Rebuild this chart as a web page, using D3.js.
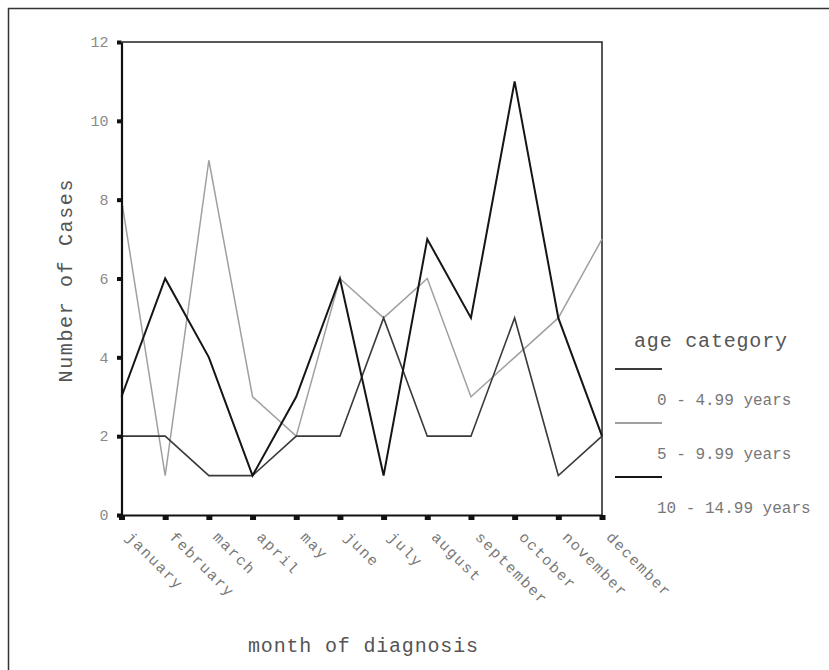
<!DOCTYPE html>
<html>
<head>
<meta charset="UTF-8">
<title>month of diagnosis</title>
<style>
  body { margin: 0; background: #fff; }
  text { font-family: "Liberation Mono", "DejaVu Sans Mono", monospace; }
</style>
</head>
<body>
<script src="https://cdn.jsdelivr.net/npm/d3@7"></script>
<script>
// data
var months = ["january", "february", "march", "april", "may", "june",
              "july", "august", "september", "october", "november", "december"];
var yTicks = [0, 2, 4, 6, 8, 10, 12];
var ageLabels = ["0 - 4.99 years", "5 - 9.99 years", "10 - 14.99 years"];
var age0 = [2, 2, 1, 1, 2, 2, 5, 2, 2, 5, 1, 2];
var age5 = [8, 1, 9, 3, 2, 6, 5, 6, 3, 4, 5, 7];
var age10 = [3, 6, 4, 1, 3, 6, 1, 7, 5, 11, 5, 2];

var width = 829, height = 670;
var svg = d3.select("body").append("svg")
    .attr("width", width)
    .attr("height", height);

// outer frame (only top and left show)
svg.append("path")
    .attr("d", "M8.5,670 V8.5 H829")
    .attr("fill", "none")
    .attr("stroke", "#333")
    .attr("stroke-width", 1.5);

var pLeft = 121.5, pRight = 602, pTop = 42, pBottom = 515;
var x = d3.scalePoint().domain(months).range([pLeft, pRight]);
var y = d3.scaleLinear().domain([0, 12]).range([pBottom, pTop]);

// top + right frame of the plot
svg.append("path")
    .attr("d", "M" + pLeft + "," + pTop + " H" + pRight + " V" + pBottom)
    .attr("fill", "none")
    .attr("stroke", "#222")
    .attr("stroke-width", 1.5);

// lines
var line = d3.line()
    .x(function(d, i) { return x(months[i]); })
    .y(function(d) { return y(d); });

var series = [
    {values: age5, color: "#a0a0a0", w: 1.5},
    {values: age0, color: "#3a3a3a", w: 1.6},
    {values: age10, color: "#151515", w: 2}
];
series.forEach(function(s) {
    svg.append("path")
        .attr("d", line(s.values))
        .attr("fill", "none")
        .attr("stroke", s.color)
        .attr("stroke-width", s.w)
        .attr("stroke-linejoin", "miter");
});

// y axis
var gy = svg.append("g")
    .attr("transform", "translate(" + pLeft + ",0)")
    .call(d3.axisLeft(y).tickValues(yTicks).tickSize(0).tickPadding(13));
gy.select(".domain").attr("stroke", "#111").attr("stroke-width", 2.2);
gy.selectAll(".tick text")
    .attr("fill", "#8a8a8a")
    .attr("font-size", 15)
    .attr("font-family", "Liberation Mono");
gy.selectAll(".tick").append("rect")
    .attr("x", -4.5).attr("y", -2)
    .attr("width", 4.5).attr("height", 4)
    .attr("fill", "#111");

// x axis
var gx = svg.append("g")
    .attr("transform", "translate(0," + pBottom + ")")
    .call(d3.axisBottom(x).tickSize(0).tickPadding(0));
gx.select(".domain").attr("stroke", "#111").attr("stroke-width", 2.2);
gx.selectAll(".tick").append("rect")
    .attr("x", -3).attr("y", 0)
    .attr("width", 6).attr("height", 5)
    .attr("fill", "#111");
gx.selectAll(".tick text")
    .attr("fill", "#777")
    .attr("font-size", 15)
    .attr("font-family", "Liberation Mono")
    .attr("letter-spacing", 1.6)
    .attr("text-anchor", "start")
    .attr("dy", 0)
    .attr("y", 0)
    .attr("transform", "translate(3,23) rotate(45)");

// axis titles
svg.append("text")
    .attr("transform", "translate(72,281) rotate(-90)")
    .attr("text-anchor", "middle")
    .attr("font-size", 20)
    .attr("fill", "#555")
    .attr("textLength", 203)
    .attr("lengthAdjust", "spacing")
    .text("Number of Cases");

svg.append("text")
    .attr("x", 248)
    .attr("y", 652)
    .attr("font-size", 20)
    .attr("fill", "#555")
    .attr("textLength", 230)
    .attr("lengthAdjust", "spacing")
    .text("month of diagnosis");

// legend
var legendColors = ["#3a3a3a", "#a0a0a0", "#151515"];
svg.append("text")
    .attr("x", 634)
    .attr("y", 347)
    .attr("font-size", 20)
    .attr("fill", "#555")
    .attr("textLength", 153)
    .attr("lengthAdjust", "spacing")
    .text("age category");

ageLabels.forEach(function(lab, i) {
    var ly = 369 + i * 54;
    svg.append("line")
        .attr("x1", 615).attr("x2", 662)
        .attr("y1", ly).attr("y2", ly)
        .attr("stroke", legendColors[i])
        .attr("stroke-width", 2);
    svg.append("text")
        .attr("x", 657)
        .attr("y", ly + 36)
        .attr("font-size", 16)
        .attr("fill", "#777")
        .text(lab);
});
</script>
</body>
</html>
